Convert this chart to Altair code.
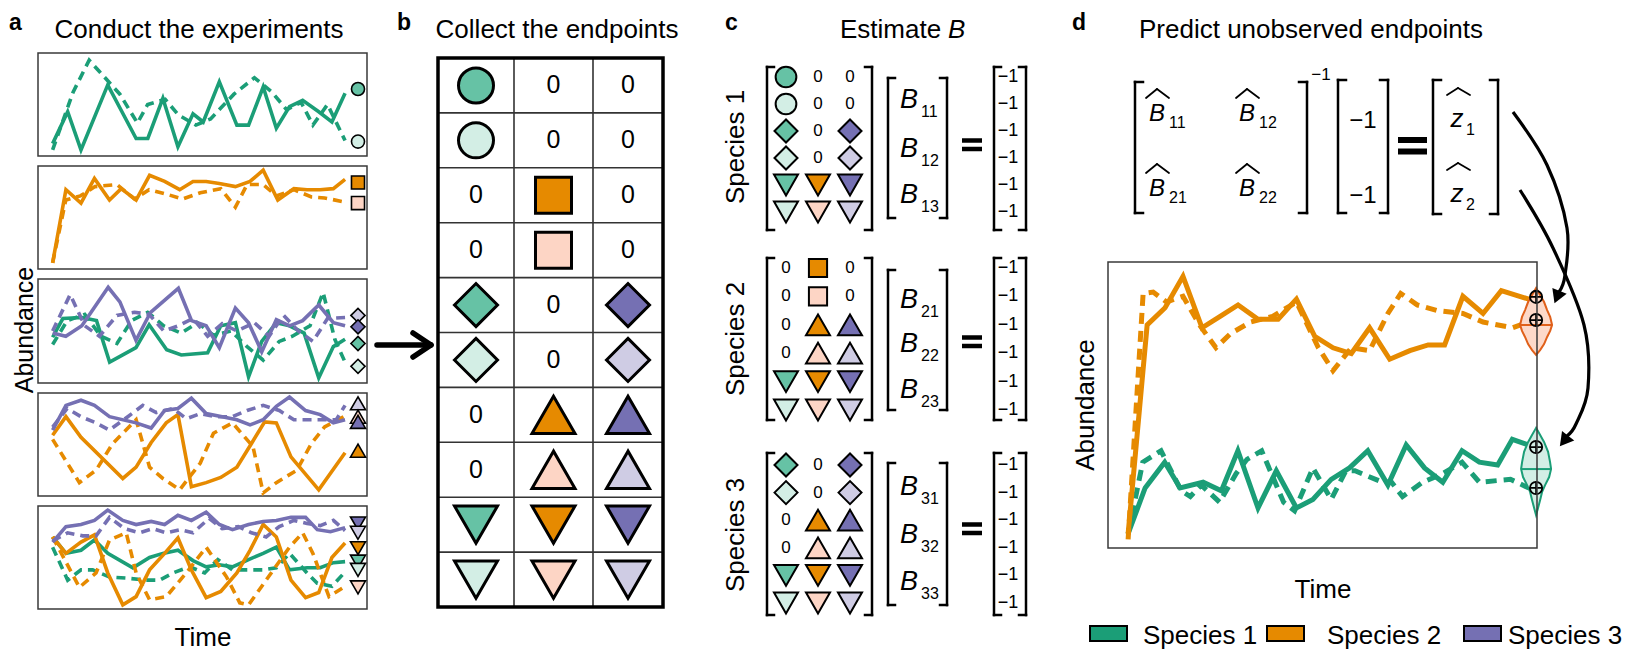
import altair as alt
import pandas as pd

# ------------------------------------------------------------------
# DATA
# ------------------------------------------------------------------
species_names = ["Species 1", "Species 2", "Species 3"]
line_colors = ["#1b9e77", "#e68a00", "#7570b3"]
dark_fill = ["#66c2a5", "#e68a00", "#7570b3"]
light_fill = ["#d3eee5", "#fdd5c5", "#cfcce4"]
exp_shapes = ["circle", "square", "diamond", "triangle-up", "triangle-down"]

# panel a, experiment 1 (species 1), replicate A (solid) and B (dashed)
e1_s1_a_t = [0, 1.03, 1.94, 3.77, 5.71, 6.51, 7.54, 8.57, 9.6, 10.3, 11.4, 12.6, 13.4, 14.4, 15.3, 16.2, 17.1, 18.2, 19.1, 20]
e1_s1_a_v = [0.12, 0.43, 0.06, 0.69, 0.17, 0.17, 0.56, 0.09, 0.41, 0.33, 0.72, 0.30, 0.30, 0.67, 0.27, 0.48, 0.54, 0.43, 0.33, 0.61]
e1_s1_b_t = [0, 1.4, 2.5, 3.2, 4.6, 5.8, 6.5, 7.7, 8.6, 9.8, 10.8, 12.4, 13.8, 15.0, 16.0, 17.0, 17.8, 18.8, 20]
e1_s1_b_v = [0.06, 0.62, 0.93, 0.82, 0.6, 0.32, 0.5, 0.55, 0.4, 0.3, 0.36, 0.6, 0.76, 0.62, 0.45, 0.52, 0.3, 0.5, 0.15]
e1_end_sp = [0, 0]
e1_end_rep = [0, 1]
e1_end_v = [0.65, 0.14]

# experiment 2 (species 2)
e2_s2_a_t = [0, 0.91, 1.94, 2.86, 3.89, 4.69, 5.71, 6.63, 7.66, 8.69, 9.6, 10.5, 11.4, 12.5, 13.5, 14.4, 15.4, 16.5, 17.4, 18.3, 19.2, 20]
e2_s2_a_v = [0.06, 0.77, 0.64, 0.88, 0.67, 0.78, 0.67, 0.91, 0.85, 0.77, 0.85, 0.85, 0.83, 0.80, 0.85, 0.96, 0.67, 0.78, 0.77, 0.77, 0.78, 0.87]
e2_s2_b_t = [0, 0.9, 1.9, 2.9, 4.4, 5.6, 6.6, 7.7, 8.9, 10.1, 11.5, 12.5, 13.3, 14.4, 15.3, 16.5, 17.7, 18.6, 20]
e2_s2_b_v = [0.06, 0.67, 0.71, 0.8, 0.82, 0.68, 0.77, 0.73, 0.68, 0.74, 0.78, 0.60, 0.82, 0.82, 0.71, 0.77, 0.70, 0.69, 0.65]
e2_end_sp = [1, 1]
e2_end_rep = [0, 1]
e2_end_v = [0.84, 0.64]

# experiment 3 (species 1 and 3)
e3_s1_a_t = [0, 0.7, 2.0, 3.0, 3.9, 5.7, 6.6, 7.8, 8.8, 10.6, 11.5, 12.5, 13.4, 14.3, 15.3, 16.2, 17.2, 18.2, 19.2, 20]
e3_s1_a_v = [0.44, 0.62, 0.63, 0.60, 0.20, 0.34, 0.56, 0.32, 0.27, 0.29, 0.55, 0.58, 0.06, 0.40, 0.58, 0.55, 0.48, 0.05, 0.35, 0.42]
e3_s1_b_t = [0, 1.0, 2.2, 3.3, 4.4, 5.4, 6.5, 7.6, 8.8, 9.9, 11.0, 12.2, 13.3, 14.4, 15.5, 16.4, 17.6, 18.5, 19.3, 20]
e3_s1_b_v = [0.37, 0.6, 0.66, 0.45, 0.38, 0.6, 0.68, 0.55, 0.48, 0.58, 0.46, 0.50, 0.35, 0.22, 0.40, 0.45, 0.55, 0.87, 0.42, 0.20]
e3_s3_a_t = [0, 0.9, 2.0, 3.8, 4.6, 5.7, 6.7, 8.6, 9.5, 10.5, 11.4, 12.5, 13.4, 14.3, 15.3, 16.2, 17.1, 18.2, 19.2, 20]
e3_s3_a_v = [0.48, 0.45, 0.55, 0.92, 0.78, 0.41, 0.68, 0.91, 0.6, 0.55, 0.34, 0.72, 0.58, 0.30, 0.61, 0.55, 0.6, 0.75, 0.58, 0.55]
e3_s3_b_t = [0, 1.2, 2.2, 3.2, 4.4, 5.6, 6.6, 7.6, 8.6, 9.6, 10.6, 11.6, 12.6, 13.8, 14.8, 15.8, 16.8, 17.8, 18.8, 20]
e3_s3_b_v = [0.5, 0.85, 0.55, 0.45, 0.65, 0.68, 0.66, 0.5, 0.55, 0.62, 0.45, 0.57, 0.5, 0.58, 0.45, 0.65, 0.5, 0.4, 0.62, 0.63]
e3_end_sp = [2, 2, 0, 0]
e3_end_rep = [1, 0, 0, 1]
e3_end_v = [0.65, 0.54, 0.38, 0.16]

# experiment 4 (species 2 and 3)
e4_s3_a_t = [0, 0.91, 1.94, 2.86, 3.89, 5.71, 6.74, 7.66, 8.57, 9.49, 10.5, 11.6, 12.6, 13.5, 14.4, 15.3, 16.2, 17.3, 18.3, 19.2, 20]
e4_s3_a_v = [0.64, 0.88, 0.93, 0.88, 0.77, 0.71, 0.66, 0.83, 0.85, 0.95, 0.80, 0.77, 0.74, 0.69, 0.74, 0.87, 0.96, 0.83, 0.79, 0.71, 0.74]
e4_s3_b_t = [0, 1.0, 1.94, 2.97, 3.89, 5.14, 6.17, 7.09, 8.23, 9.14, 10.1, 11.1, 12.3, 13.3, 14.4, 15.5, 16.5, 17.5, 18.5, 19.4, 20]
e4_s3_b_v = [0.67, 0.85, 0.77, 0.71, 0.64, 0.77, 0.88, 0.81, 0.85, 0.75, 0.80, 0.77, 0.77, 0.83, 0.88, 0.83, 0.74, 0.74, 0.74, 0.74, 0.88]
e4_s2_a_t = [0, 0.91, 1.94, 4.8, 5.71, 6.74, 7.77, 8.57, 9.49, 10.5, 11.5, 12.6, 13.6, 14.5, 15.3, 16.3, 18.2, 20]
e4_s2_a_v = [0.59, 0.77, 0.57, 0.17, 0.28, 0.52, 0.71, 0.79, 0.09, 0.13, 0.18, 0.28, 0.51, 0.72, 0.71, 0.38, 0.06, 0.42]
e4_s2_b_t = [0, 1.83, 2.97, 4.11, 5.71, 6.63, 7.54, 8.69, 10.1, 11.0, 12.3, 13.7, 14.4, 15.3, 16.7, 17.7, 18.6, 19.9]
e4_s2_b_v = [0.55, 0.13, 0.25, 0.51, 0.74, 0.28, 0.17, 0.06, 0.32, 0.61, 0.71, 0.48, 0.03, 0.13, 0.25, 0.51, 0.67, 0.77]
e4_end_sp = [2, 1, 2, 1]
e4_end_rep = [1, 1, 0, 0]
e4_end_v = [0.90, 0.77, 0.72, 0.44]

# experiment 5 (all three species)
e5_s3_a_t = [0, 0.91, 1.94, 2.86, 3.77, 4.8, 5.71, 6.74, 7.66, 8.57, 9.49, 10.5, 11.4, 12.3, 13.4, 14.4, 15.3, 16.3, 17.3, 18.1, 19.0, 20]
e5_s3_a_v = [0.65, 0.80, 0.82, 0.86, 0.96, 0.86, 0.82, 0.85, 0.82, 0.91, 0.86, 0.94, 0.82, 0.77, 0.82, 0.85, 0.86, 0.89, 0.89, 0.77, 0.75, 0.79]
e5_s3_b_t = [0, 1.03, 2.06, 2.97, 3.89, 4.91, 5.94, 6.86, 7.77, 8.69, 9.6, 10.7, 11.6, 12.7, 13.6, 14.6, 15.5, 16.5, 17.4, 18.3, 19.2, 20]
e5_s3_b_v = [0.66, 0.74, 0.71, 0.71, 0.89, 0.78, 0.74, 0.78, 0.74, 0.77, 0.74, 0.88, 0.78, 0.80, 0.74, 0.70, 0.80, 0.86, 0.83, 0.81, 0.86, 0.76]
e5_s2_a_t = [0, 0.91, 1.94, 2.86, 3.77, 4.8, 5.71, 6.63, 7.66, 8.57, 9.49, 10.5, 11.5, 12.6, 13.5, 14.4, 15.3, 16.3, 17.3, 18.2, 19.1, 20]
e5_s2_a_v = [0.70, 0.54, 0.65, 0.72, 0.35, 0.04, 0.12, 0.38, 0.54, 0.69, 0.38, 0.11, 0.17, 0.35, 0.57, 0.82, 0.70, 0.28, 0.11, 0.16, 0.50, 0.64]
e5_s2_b_t = [0, 1.83, 2.97, 3.89, 5.03, 5.71, 6.63, 7.77, 9.14, 10.5, 11.9, 12.8, 13.4, 14.6, 16.2, 17.1, 17.8, 18.9, 20]
e5_s2_b_v = [0.70, 0.21, 0.35, 0.67, 0.74, 0.35, 0.09, 0.12, 0.35, 0.60, 0.31, 0.06, 0.04, 0.28, 0.60, 0.74, 0.54, 0.12, 0.22]
e5_s1_a_t = [0, 0.91, 1.94, 2.86, 3.77, 5.49, 6.63, 7.54, 8.57, 9.6, 10.5, 11.4, 12.3, 13.4, 14.4, 15.3, 16.2, 17.4, 18.3, 19.2, 20]
e5_s1_a_v = [0.70, 0.54, 0.57, 0.67, 0.54, 0.40, 0.50, 0.54, 0.57, 0.47, 0.41, 0.43, 0.41, 0.48, 0.54, 0.60, 0.38, 0.40, 0.40, 0.45, 0.46]
e5_s1_b_t = [0, 1.03, 1.94, 2.74, 3.89, 5.03, 6.4, 7.31, 8.23, 9.37, 10.4, 11.3, 12.3, 13.4, 14.4, 15.3, 16.2, 17.4, 18.1, 19.1, 20]
e5_s1_b_v = [0.60, 0.28, 0.38, 0.38, 0.31, 0.30, 0.28, 0.28, 0.35, 0.41, 0.35, 0.48, 0.38, 0.38, 0.38, 0.40, 0.54, 0.35, 0.25, 0.22, 0.36]
e5_end_sp = [2, 2, 1, 0, 0, 1]
e5_end_rep = [0, 1, 0, 0, 1, 1]
e5_end_v = [0.83, 0.74, 0.59, 0.46, 0.38, 0.21]

# panel b: one row per endpoint set (experiment, replicate) and which species are present
row_experiment = [0, 0, 1, 1, 2, 2, 3, 3, 4, 4]
row_replicate = [0, 1, 0, 1, 0, 1, 0, 1, 0, 1]
species_present = [[1, 0, 0], [1, 0, 0], [0, 1, 0], [0, 1, 0], [1, 0, 1],
                   [1, 0, 1], [0, 1, 1], [0, 1, 1], [1, 1, 1], [1, 1, 1]]

# panel c: rows of the table used for each species' regression
rows_species1 = [0, 1, 4, 5, 8, 9]
rows_species2 = [2, 3, 6, 7, 8, 9]
rows_species3 = [4, 5, 6, 7, 8, 9]
rhs_value = "\u22121"
b_sub1 = ["11", "12", "13"]
b_sub2 = ["21", "22", "23"]
b_sub3 = ["31", "32", "33"]

# panel d: species 1 and 2 together
d_s2_a_t = [0, 1.04, 2.02, 3.0, 4.04, 5.03, 6.01, 7.1, 8.2, 9.2, 10.2, 11.2, 12.2, 13.2, 14.3, 15.4, 16.4, 17.3, 18.3, 19.4, 20.4, 21.9]
d_s2_a_v = [0.05, 0.78, 0.84, 0.95, 0.77, 0.81, 0.85, 0.80, 0.80, 0.87, 0.74, 0.70, 0.68, 0.77, 0.66, 0.69, 0.71, 0.71, 0.88, 0.82, 0.90, 0.87]
d_s2_b_t = [0, 0.82, 1.37, 2.1, 3.0, 3.9, 4.8, 5.6, 6.7, 7.9, 9.2, 10.4, 11.2, 12.2, 13.2, 14.2, 14.9, 15.8, 16.9, 18.3, 19.4, 21.0, 21.9]
d_s2_b_v = [0.03, 0.89, 0.895, 0.86, 0.88, 0.78, 0.70, 0.75, 0.79, 0.81, 0.86, 0.70, 0.62, 0.70, 0.69, 0.82, 0.89, 0.85, 0.83, 0.82, 0.79, 0.77, 0.79]
d_s1_a_t = [0, 0.93, 2.0, 2.84, 4.1, 5.1, 6.0, 7.1, 8.1, 9.2, 10.1, 11.1, 12.1, 13.1, 14.2, 15.2, 16.2, 17.2, 18.25, 19.2, 20.2, 21.0, 21.9]
d_s1_a_v = [0.05, 0.21, 0.30, 0.21, 0.23, 0.20, 0.34, 0.14, 0.27, 0.14, 0.17, 0.24, 0.28, 0.34, 0.22, 0.36, 0.28, 0.23, 0.34, 0.30, 0.29, 0.38, 0.36]
d_s1_b_t = [0, 0.8, 1.8, 2.9, 3.4, 4.0, 5.0, 5.9, 6.5, 7.3, 8.5, 9.1, 10.1, 11.1, 11.9, 12.4, 13.9, 14.4, 15.0, 16.1, 17.2, 18.25, 19.2, 20.9, 21.9]
d_s1_b_v = [0.05, 0.30, 0.34, 0.20, 0.18, 0.22, 0.16, 0.26, 0.31, 0.34, 0.16, 0.13, 0.28, 0.17, 0.27, 0.27, 0.23, 0.23, 0.18, 0.23, 0.26, 0.30, 0.23, 0.24, 0.21]
# predicted endpoint distributions (violins): abundance levels and relative density
vio_s2_v = [0.909, 0.885, 0.860, 0.832, 0.808, 0.780, 0.759, 0.738, 0.713, 0.692, 0.675]
vio_s2_d = [0, 0.25, 0.5, 0.69, 0.88, 1.0, 0.88, 0.69, 0.5, 0.25, 0]
vio_s1_v = [0.42, 0.395, 0.371, 0.336, 0.301, 0.276, 0.248, 0.220, 0.196, 0.168, 0.140, 0.115]
vio_s1_d = [0, 0.27, 0.53, 0.8, 0.93, 1.0, 0.87, 0.6, 0.4, 0.27, 0.13, 0]
pred_s2 = [0.878, 0.797]
pred_s1 = [0.353, 0.21]
median_s2 = 0.78
median_s1 = 0.276

# ------------------------------------------------------------------
# LAYOUT HELPERS
# ------------------------------------------------------------------
FONT = "Liberation Sans"
M = 8
W, H = 1623, 644


def P(v):
    return v - M


def lin(dom, rng):
    return alt.Scale(domain=list(dom), range=[P(r) for r in rng], nice=False, zero=False)


CX = lin([0, 1639], [0, 1639])
CY = lin([0, 652], [0, 652])
ONE = pd.DataFrame({"k": [0]})
layers = []


def label(s, x, y, size=26, weight="normal", style="normal", align="center",
          angle=0, baseline="alphabetic"):
    df = pd.DataFrame({"s": [s]})
    return alt.Chart(df).mark_text(font=FONT, fontSize=size, fontWeight=weight, fontStyle=style,
                                   align=align, baseline=baseline, angle=angle, color="black").encode(
        x=alt.value(P(x)), y=alt.value(P(y)), text="s:N")


def segs(rows, width=2.5, color="black", cap="square"):
    df = pd.DataFrame(rows, columns=["x1", "y1", "x2", "y2"])
    return alt.Chart(df).mark_rule(strokeWidth=width, color=color, strokeCap=cap).encode(
        x=alt.X("x1:Q", scale=CX, axis=None), x2="x2:Q",
        y=alt.Y("y1:Q", scale=CY, axis=None), y2="y2:Q")


def bracket(x, y0, y1, side, hook=7):
    d = hook if side == "L" else -hook
    return [(x, y0, x, y1), (x, y0, x + d, y0), (x, y1, x + d, y1)]


def box(x0, x1, y0, y1, width=1.5, color="#3a3a3a"):
    return alt.Chart(ONE).mark_rect(fillOpacity=0, stroke=color, strokeWidth=width).encode(
        x=alt.value(P(x0)), x2=alt.value(P(x1)), y=alt.value(P(y0)), y2=alt.value(P(y1)))


def series_line(t, v, color, dashed, xs, ys, width, dash):
    df = pd.DataFrame({"t": t, "v": v, "i": list(range(len(t)))})
    kw = dict(color=color, strokeWidth=width, strokeCap="butt")
    if dashed:
        kw["strokeDash"] = dash
    return alt.Chart(df).mark_line(**kw).encode(
        x=alt.X("t:Q", scale=xs, axis=None), y=alt.Y("v:Q", scale=ys, axis=None), order="i:Q")


def fill_of(sp, rep):
    return (dark_fill if rep == 0 else light_fill)[sp]


# ------------------------------------------------------------------
# PANEL LABELS AND TITLES
# ------------------------------------------------------------------
for s, x in [("a", 9), ("b", 397), ("c", 725), ("d", 1072)]:
    layers.append(label(s, x, 30, size=23, weight="bold", align="left"))
layers.append(label("Conduct the experiments", 199, 38))
layers.append(label("Collect the endpoints", 557, 38))
layers.append(label("Estimate", 840, 38, align="left"))
layers.append(label("B", 948, 38, style="italic", align="left"))
layers.append(label("Predict unobserved endpoints", 1311, 38))

# ------------------------------------------------------------------
# PANEL A
# ------------------------------------------------------------------
experiments = [
    ([(0, 0, e1_s1_a_t, e1_s1_a_v), (0, 1, e1_s1_b_t, e1_s1_b_v)], e1_end_sp, e1_end_rep, e1_end_v),
    ([(1, 0, e2_s2_a_t, e2_s2_a_v), (1, 1, e2_s2_b_t, e2_s2_b_v)], e2_end_sp, e2_end_rep, e2_end_v),
    ([(0, 0, e3_s1_a_t, e3_s1_a_v), (0, 1, e3_s1_b_t, e3_s1_b_v),
      (2, 0, e3_s3_a_t, e3_s3_a_v), (2, 1, e3_s3_b_t, e3_s3_b_v)], e3_end_sp, e3_end_rep, e3_end_v),
    ([(1, 0, e4_s2_a_t, e4_s2_a_v), (1, 1, e4_s2_b_t, e4_s2_b_v),
      (2, 0, e4_s3_a_t, e4_s3_a_v), (2, 1, e4_s3_b_t, e4_s3_b_v)], e4_end_sp, e4_end_rep, e4_end_v),
    ([(0, 0, e5_s1_a_t, e5_s1_a_v), (0, 1, e5_s1_b_t, e5_s1_b_v),
      (1, 0, e5_s2_a_t, e5_s2_a_v), (1, 1, e5_s2_b_t, e5_s2_b_v),
      (2, 0, e5_s3_a_t, e5_s3_a_v), (2, 1, e5_s3_b_t, e5_s3_b_v)], e5_end_sp, e5_end_rep, e5_end_v),
]
A_X = (38, 367)
A_BOX_Y = [(53, 156), (166, 269), (279, 383), (393, 496), (506, 609)]
A_MARK_X = 358
a_sizes = {"circle": 170, "square": 170, "diamond": 200, "triangle-up": 225, "triangle-down": 225}

for k, (series, esp, erep, ev) in enumerate(experiments):
    top, bot = A_BOX_Y[k]
    xs = lin([-1, 21.5], A_X)
    ys = lin([0, 1], (bot, top))
    layers.append(box(A_X[0], A_X[1], top, bot))
    for sp, rep, t, v in series:
        layers.append(series_line(t, v, line_colors[sp], rep == 1, xs, ys, 3.6, [9, 6]))
    shape = exp_shapes[k]
    mdf = pd.DataFrame({"v": ev, "fill": [fill_of(s, r) for s, r in zip(esp, erep)]})
    layers.append(alt.Chart(mdf).mark_point(shape=shape, filled=True, opacity=1, stroke="black",
                                            strokeWidth=1.6, size=a_sizes[shape]).encode(
        x=alt.value(P(A_MARK_X)), y=alt.Y("v:Q", scale=ys, axis=None),
        fill=alt.Fill("fill:N", scale=None)))

layers.append(label("Abundance", 25, 330, size=25, angle=270, baseline="middle"))
layers.append(label("Time", 203, 646))

# arrow a -> b
layers.append(segs([(377, 345, 428, 345), (413, 333, 431, 345), (431, 345, 413, 357)],
                   width=5.5, cap="round"))

# ------------------------------------------------------------------
# PANEL B
# ------------------------------------------------------------------
bx = alt.Scale(domain=[0, 1, 2, 3], range=[P(v) for v in (438, 514, 593, 663)], nice=False, zero=False)
by = lin([0, 10], (58, 607))
b_sizes = {"circle": 1225, "square": 1296, "diamond": 1850, "triangle-up": 1850, "triangle-down": 1850}
c_sizes = {"circle": 430, "square": 330, "diamond": 530, "triangle-up": 576, "triangle-down": 576}

sym_rows, zero_rows = [], []
for r in range(10):
    shape = exp_shapes[row_experiment[r]]
    for c in range(3):
        if species_present[r][c]:
            sym_rows.append({"r": r + 0.5, "c": c + 0.5, "shape": shape,
                             "fill": fill_of(c, row_replicate[r]), "sz": b_sizes[shape]})
        else:
            zero_rows.append({"r": r + 0.5, "c": c + 0.5, "s": "0"})

grid = [{"x1": 0, "x2": 3, "y1": i, "y2": i} for i in range(1, 10)] + \
       [{"x1": j, "x2": j, "y1": 0, "y2": 10} for j in (1, 2)]
layers.append(alt.Chart(pd.DataFrame(grid)).mark_rule(strokeWidth=1.6, color="#333333").encode(
    x=alt.X("x1:Q", scale=bx, axis=None), x2="x2:Q", y=alt.Y("y1:Q", scale=by, axis=None), y2="y2:Q"))
layers.append(alt.Chart(ONE).mark_rect(fillOpacity=0, stroke="black", strokeWidth=3.5).encode(
    x=alt.value(P(438)), x2=alt.value(P(663)), y=alt.value(P(58)), y2=alt.value(P(607))))
layers.append(alt.Chart(pd.DataFrame(sym_rows)).mark_point(filled=True, opacity=1, stroke="black",
                                                            strokeWidth=3).encode(
    x=alt.X("c:Q", scale=bx, axis=None), y=alt.Y("r:Q", scale=by, axis=None),
    shape=alt.Shape("shape:N", scale=None), fill=alt.Fill("fill:N", scale=None),
    size=alt.Size("sz:Q", scale=None)))
layers.append(alt.Chart(pd.DataFrame(zero_rows)).mark_text(font=FONT, fontSize=25, baseline="middle",
                                                            color="black").encode(
    x=alt.X("c:Q", scale=bx, axis=None), y=alt.Y("r:Q", scale=by, axis=None), text="s:N"))

# ------------------------------------------------------------------
# PANEL C
# ------------------------------------------------------------------
c_specs = [
    (rows_species1, b_sub1, (77, 212), (67, 230), (78, 218), (108, 157, 203), (140.5, 149), 147),
    (rows_species2, b_sub2, (268, 410), (258, 420), (270, 410), (308, 352, 398), (337.5, 346), 339),
    (rows_species3, b_sub3, (465, 603), (453, 615), (463, 605), (495, 543, 590), (524.5, 533), 535),
]
brackets = []
eq_bars = []
for s, (rows, subs, rowrng, mbr, bbr, bbase, eqy, laby) in enumerate(c_specs):
    cx = lin([0, 2], (786, 850))
    cy = lin([0, 5], rowrng)
    syms, zeros = [], []
    for i, r in enumerate(rows):
        shape = exp_shapes[row_experiment[r]]
        for c in range(3):
            if species_present[r][c]:
                syms.append({"r": i, "c": c, "shape": shape, "fill": fill_of(c, row_replicate[r]),
                             "sz": c_sizes[shape]})
            else:
                zeros.append({"r": i, "c": c, "s": "0"})
    layers.append(alt.Chart(pd.DataFrame(syms)).mark_point(filled=True, opacity=1, stroke="black",
                                                            strokeWidth=2).encode(
        x=alt.X("c:Q", scale=cx, axis=None), y=alt.Y("r:Q", scale=cy, axis=None),
        shape=alt.Shape("shape:N", scale=None), fill=alt.Fill("fill:N", scale=None),
        size=alt.Size("sz:Q", scale=None)))
    layers.append(alt.Chart(pd.DataFrame(zeros)).mark_text(font=FONT, fontSize=17, baseline="middle",
                                                            color="black").encode(
        x=alt.X("c:Q", scale=cx, axis=None), y=alt.Y("r:Q", scale=cy, axis=None), text="s:N"))
    rhs = pd.DataFrame({"r": list(range(len(rows))), "s": [rhs_value] * len(rows)})
    layers.append(alt.Chart(rhs).mark_text(font=FONT, fontSize=18, baseline="middle", color="black").encode(
        x=alt.value(P(1008)), y=alt.Y("r:Q", scale=cy, axis=None), text="s:N"))
    brackets += bracket(767, mbr[0], mbr[1], "L") + bracket(872, mbr[0], mbr[1], "R")
    brackets += bracket(888, bbr[0], bbr[1], "L") + bracket(947, bbr[0], bbr[1], "R")
    brackets += bracket(994, mbr[0], mbr[1], "L") + bracket(1026, mbr[0], mbr[1], "R")
    for sub, yb in zip(subs, bbase):
        layers.append(label("B", 909, yb, size=27, style="italic"))
        layers.append(label(sub, 921, yb + 9, size=16, align="left"))
    eq_bars += [(962, eqy[0], 982, eqy[0]), (962, eqy[1], 982, eqy[1])]
    layers.append(label(species_names[s], 736, laby, angle=270, baseline="middle"))

# ------------------------------------------------------------------
# PANEL D : equation
# ------------------------------------------------------------------
brackets += bracket(1135, 82, 213, "L", 8) + bracket(1307, 82, 213, "R", 8)
brackets += bracket(1338, 80, 213, "L", 8) + bracket(1388, 80, 213, "R", 8)
brackets += bracket(1433, 80, 214, "L", 8) + bracket(1498, 80, 214, "R", 8)
hats = []
for cxp, yb, sub in [(1157, 121, "11"), (1247, 121, "12"), (1157, 196, "21"), (1247, 196, "22")]:
    layers.append(label("B", cxp, yb, size=24, style="italic"))
    layers.append(label(sub, cxp + 12, yb + 7, size=16, align="left"))
    hats += [(cxp - 11, yb - 23, cxp, yb - 32), (cxp, yb - 32, cxp + 12, yb - 23)]
layers.append(label("\u22121", 1321, 80, size=17))
layers.append(label("\u22121", 1363, 128, size=24))
layers.append(label("\u22121", 1363, 203, size=24))
for yb, sub, hy in [(127, "1", 95), (202, "2", 170)]:
    layers.append(label("z", 1457, yb, size=26, style="italic"))
    layers.append(label(sub, 1466, yb + 8, size=16, align="left"))
    hats += [(1447, hy, 1458, hy - 7), (1458, hy - 7, 1470, hy)]
eq_bars_d = [(1398, 140, 1427, 140), (1398, 151.5, 1427, 151.5)]

layers.append(segs(brackets, width=2.5))
layers.append(segs(eq_bars, width=4.5, cap="butt"))
layers.append(segs(eq_bars_d, width=6, cap="butt"))
layers.append(segs(hats, width=1.8, cap="round"))

# ------------------------------------------------------------------
# PANEL D : time series with predicted endpoints
# ------------------------------------------------------------------
D_X = (1108, 1537)
D_Y = (548, 262)
dxs = lin([-1.1, 22.35], D_X)
dys = lin([0, 1], D_Y)
T_END = 22.3
PX_PER_T = (D_X[1] - D_X[0]) / 23.45

for sp, rep, t, v in [(0, 0, d_s1_a_t, d_s1_a_v), (0, 1, d_s1_b_t, d_s1_b_v),
                      (1, 0, d_s2_a_t, d_s2_a_v), (1, 1, d_s2_b_t, d_s2_b_v)]:
    layers.append(series_line(t, v, line_colors[sp], rep == 1, dxs, dys, 5, [11, 7]))

for vv, dd, hw_px, fillc, strokec, med, preds in [
        (vio_s2_v, vio_s2_d, 16, "#fdd9c9", "#e0601a", median_s2, pred_s2),
        (vio_s1_v, vio_s1_d, 15, "#d3eee5", "#1b9e77", median_s1, pred_s1)]:
    hw = hw_px / PX_PER_T
    vdf = pd.DataFrame({"v": vv, "lo": [T_END - d * hw for d in dd], "hi": [T_END + d * hw for d in dd]})
    layers.append(alt.Chart(vdf).mark_area(orient="horizontal", fill=fillc, stroke=strokec,
                                           strokeWidth=2, opacity=1).encode(
        y=alt.Y("v:Q", scale=dys, axis=None), x=alt.X("lo:Q", scale=dxs, axis=None), x2="hi:Q"))
    mdf = pd.DataFrame({"v": [med], "lo": [T_END - hw], "hi": [T_END + hw]})
    layers.append(alt.Chart(mdf).mark_rule(color=strokec, strokeWidth=2).encode(
        y=alt.Y("v:Q", scale=dys, axis=None), x=alt.X("lo:Q", scale=dxs, axis=None), x2="hi:Q"))
    pdf = pd.DataFrame({"v": preds, "t": [T_END] * len(preds)})
    layers.append(alt.Chart(pdf).mark_point(shape="circle", filled=False, stroke="black",
                                            strokeWidth=1.8, size=150, opacity=1).encode(
        x=alt.X("t:Q", scale=dxs, axis=None), y=alt.Y("v:Q", scale=dys, axis=None)))
    layers.append(alt.Chart(pdf).mark_point(shape="M-1,0L1,0M0,-1L0,1", filled=False, stroke="black",
                                            strokeWidth=1.8, size=150, opacity=1).encode(
        x=alt.X("t:Q", scale=dxs, axis=None), y=alt.Y("v:Q", scale=dys, axis=None)))

layers.append(box(D_X[0], D_X[1], D_Y[1], D_Y[0]))
layers.append(label("Abundance", 1086, 405, angle=270, baseline="middle"))
layers.append(label("Time", 1323, 598))

# curved arrows from the predicted vector to the violins
for pts, head, ang in [
        ([(1513, 112), (1547, 165), (1567, 228), (1565, 275), (1559, 292)], (1557, 297), 22),
        ([(1520, 190), (1553, 248), (1584, 325), (1588, 388), (1576, 424), (1567, 436)], (1564, 441), 38)]:
    adf = pd.DataFrame({"x": [p[0] for p in pts], "y": [p[1] for p in pts], "i": list(range(len(pts)))})
    layers.append(alt.Chart(adf).mark_line(color="black", strokeWidth=3.2, interpolate="cardinal").encode(
        x=alt.X("x:Q", scale=CX, axis=None), y=alt.Y("y:Q", scale=CY, axis=None), order="i:Q"))
    hdf = pd.DataFrame({"x": [head[0]], "y": [head[1]]})
    layers.append(alt.Chart(hdf).mark_point(shape="triangle-down", filled=True, color="black", opacity=1,
                                            size=240, angle=ang).encode(
        x=alt.X("x:Q", scale=CX, axis=None), y=alt.Y("y:Q", scale=CY, axis=None)))

# legend
LEG_SW = [1090, 1267, 1464]
LEG_TX = [1143, 1327, 1508]
for i in range(3):
    layers.append(alt.Chart(ONE).mark_rect(fill=line_colors[i], stroke="black", strokeWidth=2).encode(
        x=alt.value(P(LEG_SW[i])), x2=alt.value(P(LEG_SW[i] + 37)),
        y=alt.value(P(626)), y2=alt.value(P(641))))
    layers.append(label(species_names[i], LEG_TX[i], 644, align="left"))

chart = alt.layer(*layers).resolve_scale(x="independent", y="independent").properties(
    width=W, height=H, padding=0, autosize=alt.AutoSizeParams(type="none")
).configure_view(strokeWidth=0)

chart.save("out.html", embed_options={"renderer": "svg", "actions": False})
